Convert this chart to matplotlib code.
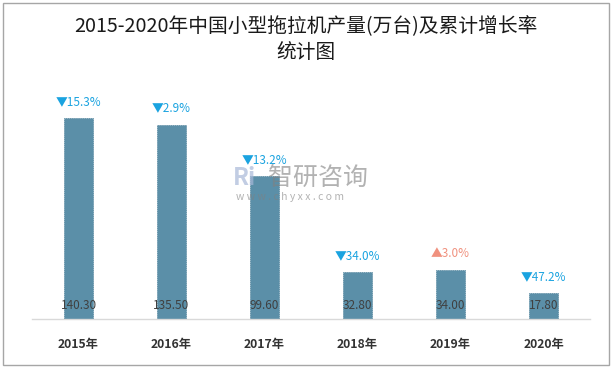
import matplotlib.pyplot as plt
from matplotlib.patches import Rectangle

plt.rcParams['font.family'] = ['Noto Sans CJK SC', 'DejaVu Sans']

# datos
years = ["2015年", "2016年", "2017年", "2018年", "2019年", "2020年"]
output = [140.30, 135.50, 99.60, 32.80, 34.00, 17.80]
growth = [-15.3, -2.9, -13.2, -34.0, 3.0, -47.2]

bar_color = "#5b8fa8"
down_color = "#1aa3e0"
up_color = "#f0917e"

fig = plt.figure(figsize=(6.12, 3.68), dpi=100)
ax = fig.add_axes([32 / 612, 49 / 368, 558 / 612, 239 / 368])

x = list(range(len(years)))
ax.bar(x, output, width=0.31, color=bar_color, edgecolor="#52849c",
       linewidth=0.5, linestyle=(0, (2, 1)), zorder=2)

# valores dentro de las barras
for i, v in enumerate(output):
    ax.annotate(f"{v:.2f}", (i, 0), xytext=(0, 10), textcoords="offset points",
                ha="center", va="center", fontsize=8.5, color="#404040", zorder=4)

# tasa de crecimiento
for i, (v, g) in enumerate(zip(output, growth)):
    mark = "▲" if g > 0 else "▼"
    col = up_color if g > 0 else down_color
    ax.annotate(f"{mark}{abs(g):.1f}%", (i, v), xytext=(0, 12), textcoords="offset points",
                ha="center", va="center", fontsize=8.5, color=col, zorder=4)

ax.set_xlim(-0.5, 5.5)
ax.set_ylim(0, 166.8)
ax.set_yticks([])
ax.set_xticks(x)
ax.set_xticklabels(years, fontsize=8.8, fontweight="bold", color="#333333")
ax.tick_params(axis="x", length=0, pad=14)
for s in ["top", "right", "left"]:
    ax.spines[s].set_visible(False)
ax.spines["bottom"].set_color("#d9d9d9")
ax.spines["bottom"].set_linewidth(1)

# titulo
fig.text(0.5, 1 - 27 / 368, "2015-2020年中国小型拖拉机产量(万台)及累计增长率",
         ha="center", va="center", fontsize=14.2, color="#1a1a1a")
fig.text(0.5, 1 - 53 / 368, "统计图", ha="center", va="center",
         fontsize=14.2, color="#1a1a1a")

# marca de agua
fig.text(268 / 612, 1 - 178 / 368, "智研咨询", ha="left", va="center",
         fontsize=18, color="#808080", alpha=0.6, zorder=5)
fig.text(236 / 612, 1 - 197 / 368, "w w w . c h y x x . c o m", ha="left", va="center",
         fontsize=7.5, color="#808080", alpha=0.6, zorder=5)
fig.text(233 / 612, 1 - 178 / 368, "Ri", ha="left", va="center",
         fontsize=17, fontweight="bold", color="#a8b8d8", alpha=0.7, zorder=5)

# borde
fig.patches.append(Rectangle((3 / 612, 3 / 368), 606 / 612, 362 / 368,
                             transform=fig.transFigure, fill=False,
                             edgecolor="#a6a6a6", linewidth=1))

plt.savefig("out.png", dpi=100)
